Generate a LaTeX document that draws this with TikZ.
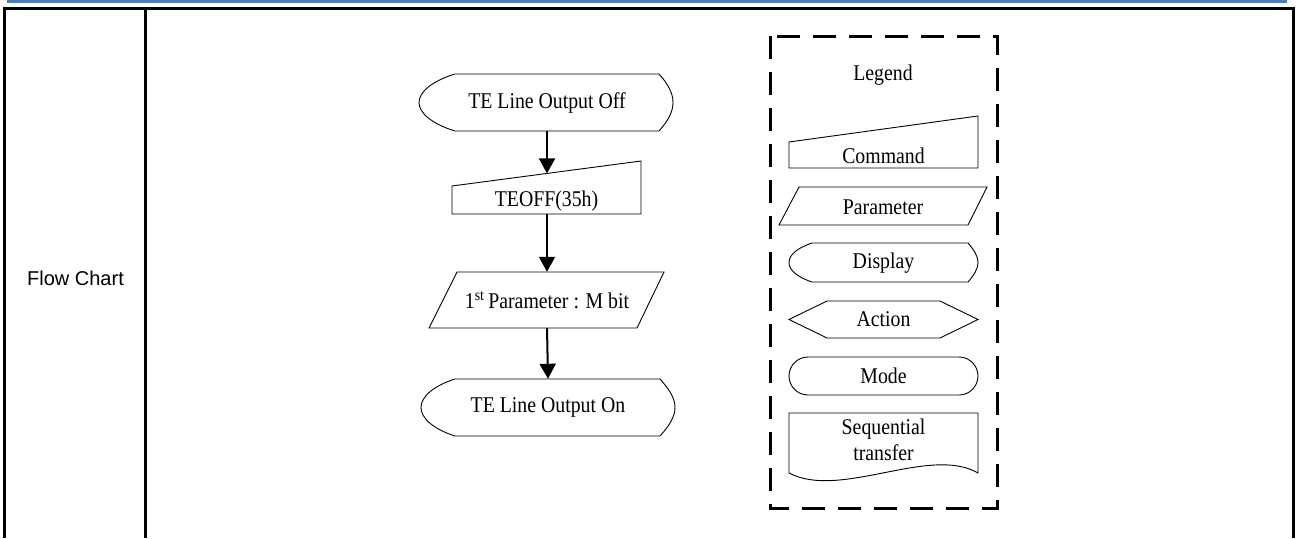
\documentclass[tikz,border=0pt]{standalone}
\usepackage{fontspec}
\setmainfont{Liberation Serif}[FakeStretch=0.88]
\newfontfamily\arialfont{Liberation Sans}
\usetikzlibrary{arrows.meta}
\definecolor{barblue}{RGB}{74,126,187}
\begin{document}
\begin{tikzpicture}[x=1pt,y=-1pt,
  shapeline/.style={draw=black,line width=0.9pt},
  lbl/.style={font=\fontsize{22.5}{26}\selectfont,inner sep=0pt},
  flowarrow/.style={line width=2pt,-{Triangle[width=16pt,length=15pt]}},
  border/.style={line width=3pt},
  legendbox/.style={line width=3pt,dash pattern=on 23pt off 13pt}]
\useasboundingbox (0,0) rectangle (1298,538);
% top bar and table
\fill[barblue] (7,0) rectangle (1287,3);
\draw[border] (4.5,538) -- (4.5,8) -- (1293.5,8) -- (1293.5,538);
\draw[border] (145,8) -- (145,538);
\node[font=\arialfont\fontsize{20}{24}\selectfont,inner sep=0pt] (fc) at (75.5,278) {Flow Chart};

% flow chart
\draw[shapeline] (455,74) -- (659,74) .. controls (668,84) and (673,93) .. (673,102.5)
  .. controls (673,112) and (668,121) .. (659,131) -- (455,131)
  .. controls (432,124) and (419,113) .. (419,102.5) .. controls (419,92) and (432,81) .. (455,74) -- cycle;
\node[lbl,minimum width=254pt,minimum height=57pt] (d1) at (547,102.5) {TE Line Output Off};

\draw[shapeline] (452,186) -- (641,161) -- (641,214) -- (452,214) -- cycle;
\node[lbl] (c1) at (546.5,201) {TEOFF(35h)};
\coordinate (c1top) at (547,173.4);
\coordinate (c1bot) at (547,214);

\draw[shapeline] (457,272) -- (664,272) -- (637,328) -- (429,328) -- cycle;
\node[lbl,minimum width=200pt,minimum height=56pt] (p1) at (547,300) {1\textsuperscript{st}\,Parameter : M bit};

\draw[shapeline] (455,379) -- (660,379) .. controls (669,389) and (675,398) .. (675,407.5)
  .. controls (675,417) and (669,426) .. (660,436) -- (455,436)
  .. controls (433,429) and (421,418) .. (421,407.5) .. controls (421,397) and (433,386) .. (455,379) -- cycle;
\node[lbl,minimum width=254pt,minimum height=57pt] (d2) at (548,407.5) {TE Line Output On};

\draw[flowarrow] (d1.south) -- (c1top);
\draw[flowarrow] (c1bot) -- (p1.north);
\draw[flowarrow] (p1.south) -- (d2.north);

% legend
\draw[legendbox] (770,36) rectangle (997,508);
\node[lbl] (lg) at (883,75) {Legend};

\draw[shapeline] (789,142) -- (978,116) -- (978,168) -- (789,168) -- cycle;
\node[lbl] (lcmd) at (883.5,156) {Command};

\draw[shapeline] (799,187) -- (987,187) -- (968,225) -- (779,225) -- cycle;
\node[lbl] (lpar) at (883,207) {Parameter};

\draw[shapeline] (812,243) -- (968,243) .. controls (974,250) and (978,256) .. (978,262.5)
  .. controls (978,269) and (974,275) .. (968,282) -- (812,282)
  .. controls (797,277) and (789,270) .. (789,262.5) .. controls (789,255) and (797,248) .. (812,243) -- cycle;
\node[lbl] (ldisp) at (883.5,263) {Display};

\draw[shapeline] (789,319.5) -- (827,301) -- (940,301) -- (978,319.5) -- (940,338) -- (827,338) -- cycle;
\node[lbl] (lact) at (883.5,319.5) {Action};

\draw[shapeline,rounded corners=19pt] (789,357) rectangle (978,395);
\node[lbl] (lmode) at (883.5,376) {Mode};

\draw[shapeline] (789,413) -- (978,413) -- (978,473) .. controls (930,445) and (840,500) .. (789,473) -- cycle;
\node[lbl,align=center,font=\fontsize{22.5}{26}\selectfont] (lseq) at (883.5,440) {Sequential\\transfer};
\end{tikzpicture}
\end{document}
